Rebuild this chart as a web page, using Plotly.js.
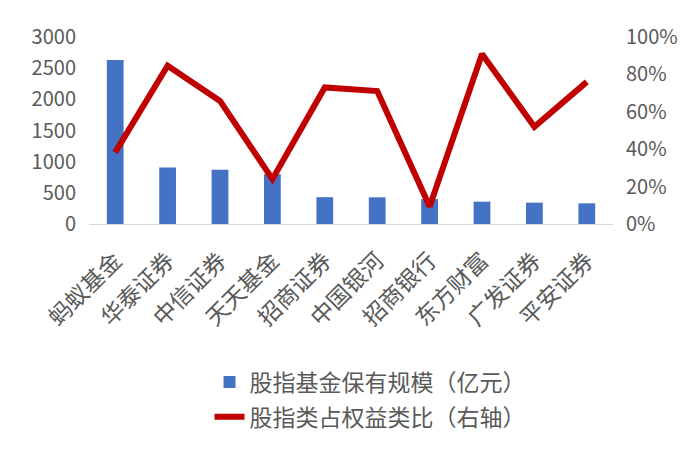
<!DOCTYPE html>
<html>
<head>
<meta charset="utf-8">
<script src="https://cdn.plot.ly/plotly-3.0.1.min.js"></script>
<style>
  body { margin: 0; background: #fff; }
  #chart { width: 700px; height: 459px; }
</style>
</head>
<body>
<div id="chart"></div>
<script>
var companies = ['蚂蚁基金', '华泰证券', '中信证券', '天天基金', '招商证券', '中国银河', '招商银行', '东方财富', '广发证券', '平安证券'];
var scale = [2630, 905, 870, 800, 430, 428, 400, 358, 342, 332];
var equityShare = [0.383, 0.846, 0.658, 0.24, 0.73, 0.711, 0.093, 0.909, 0.52, 0.76];

var FONT = '"Noto Sans CJK SC", "Noto Sans", sans-serif';
var GREY = '#595959';

var bars = {
    x: companies,
    y: scale,
    name: '股指基金保有规模（亿元）',
    type: 'bar',
    marker: { color: '#4472C4' },
    legendgroup: 'a',
    hoverinfo: 'x+y'
};

var line = {
    x: companies,
    y: equityShare,
    name: '股指类占权益类比（右轴）',
    type: 'scatter',
    mode: 'lines',
    yaxis: 'y2',
    line: { color: '#C00000', width: 6 },
    legendgroup: 'b'
};

var layout = {
    width: 700,
    height: 459,
    margin: { l: 89, r: 87, t: 37, b: 235 },
    paper_bgcolor: '#fff',
    plot_bgcolor: '#fff',
    font: { family: FONT, color: GREY, size: 20 },
    bargap: 0.68,
    showlegend: true,
    xaxis: {
        type: 'category',
        tickangle: -45,
        showline: true,
        linecolor: '#D9D9D9',
        linewidth: 1,
        showgrid: false,
        zeroline: false,
        ticks: '',
        ticklabelstandoff: 13,
        tickfont: { size: 23, color: GREY }
    },
    yaxis: {
        range: [0, 3000],
        dtick: 500,
        showgrid: false,
        zeroline: false,
        showline: false,
        ticks: '',
        ticklabelstandoff: 12,
        tickfont: { size: 20, color: GREY }
    },
    yaxis2: {
        overlaying: 'y',
        side: 'right',
        range: [0, 1],
        dtick: 0.2,
        tickformat: '.0%',
        showgrid: false,
        zeroline: false,
        showline: false,
        ticks: '',
        ticklabelstandoff: 12,
        tickfont: { size: 20, color: GREY }
    },
    legend: {
        orientation: 'v',
        x: 0.23,
        xanchor: 'left',
        y: -0.73,
        yanchor: 'top',
        tracegroupgap: 2,
        font: { size: 23, color: GREY }
    }
};

Plotly.newPlot('chart', [bars, line], layout, { displayModeBar: false, staticPlot: true });
</script>
</body>
</html>
